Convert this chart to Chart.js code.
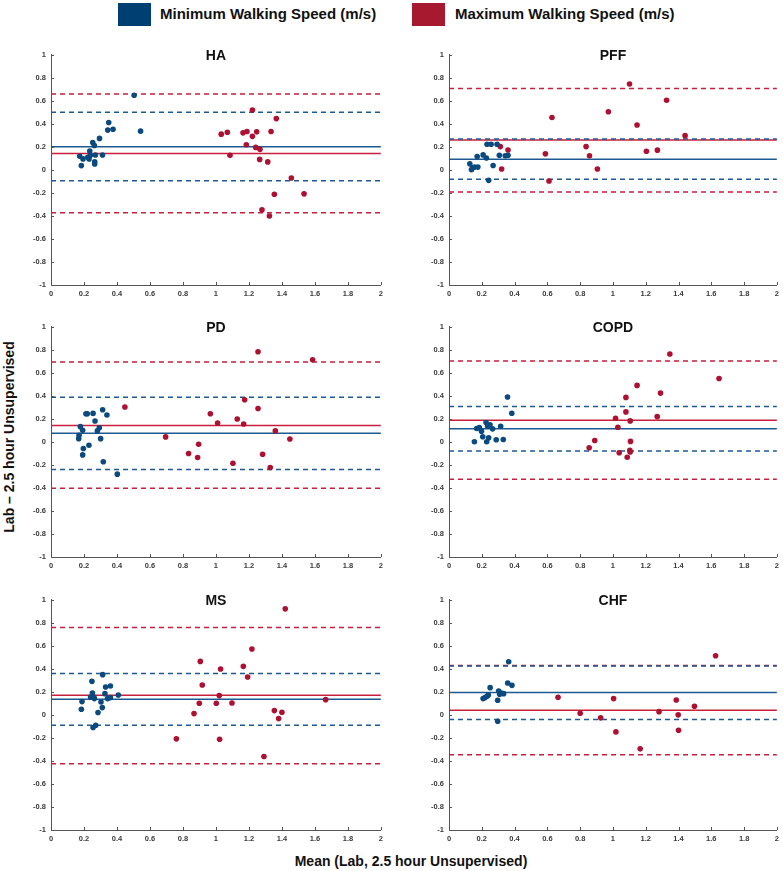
<!DOCTYPE html>
<html>
<head>
<meta charset="utf-8">
<script src="https://cdn.jsdelivr.net/npm/chart.js@4.4.1/dist/chart.umd.min.js"></script>
<style>
  html, body { margin:0; padding:0; background:#fff; }
  body { width:783px; height:871px; position:relative; overflow:hidden; font-family:"Liberation Sans", Arial, sans-serif; }
  canvas.panel { position:absolute; }
  .lg-box { position:absolute; width:33px; height:23px; top:3px; }
  .lg-txt { position:absolute; top:4px; font-weight:bold; font-size:15px; line-height:20px; color:#111; white-space:nowrap; }
  #ylab { position:absolute; left:9px; top:437px; transform:translate(-50%,-50%) rotate(-90deg); font-weight:bold; font-size:14px; white-space:nowrap; color:#111; }
  #xlab { position:absolute; left:411px; top:861px; transform:translate(-50%,-50%); font-weight:bold; font-size:14px; white-space:nowrap; color:#111; }
</style>
</head>
<body>
<div class="lg-box" style="left:118px;background:#003f72"></div>
<div class="lg-txt" style="left:160px">Minimum Walking Speed (m/s)</div>
<div class="lg-box" style="left:412px;background:#a6192e"></div>
<div class="lg-txt" style="left:455px">Maximum Walking Speed (m/s)</div>
<div id="ylab">Lab – 2.5 hour Unsupervised</div>
<div id="xlab">Mean (Lab, 2.5 hour Unsupervised)</div>

<script>
// ---------- DATA ----------
const panelNames = ['HA', 'PFF', 'PD', 'COPD', 'MS', 'CHF'];
const xTicks = [0, 0.2, 0.4, 0.6, 0.8, 1, 1.2, 1.4, 1.6, 1.8, 2];
const yTicks = [-1, -0.8, -0.6, -0.4, -0.2, 0, 0.2, 0.4, 0.6, 0.8, 1];

// HA
const haMinX = [0.174,0.184,0.194,0.223,0.231,0.235,0.239,0.253,0.263,0.265,0.265,0.269,0.294,0.312,0.344,0.350,0.376,0.504,0.543];
const haMinY = [0.117,0.036,0.094,0.108,0.094,0.163,0.125,0.237,0.211,0.070,0.050,0.128,0.272,0.128,0.344,0.410,0.352,0.646,0.335];
const haMaxX = [1.032,1.069,1.085,1.164,1.188,1.184,1.221,1.221,1.247,1.241,1.267,1.265,1.279,1.314,1.324,1.334,1.354,1.366,1.457,1.534];
const haMaxY = [0.309,0.326,0.125,0.320,0.332,0.217,0.519,0.290,0.329,0.194,0.177,0.090,-0.347,0.068,-0.401,0.332,-0.212,0.444,-0.071,-0.209];
const haMinLines = [0.200, 0.499, -0.096];   // mean, upper LoA, lower LoA
const haMaxLines = [0.142, 0.657, -0.373];

// PFF
const pffMinX = [0.127,0.137,0.143,0.156,0.172,0.176,0.208,0.228,0.232,0.242,0.257,0.269,0.293,0.307,0.343,0.360];
const pffMinY = [0.052,0.000,0.017,0.023,0.115,0.023,0.129,0.101,0.221,-0.092,0.221,0.037,0.221,0.126,0.121,0.126];
const pffMaxX = [0.313,0.321,0.360,0.588,0.610,0.628,0.836,0.857,0.905,0.972,1.101,1.147,1.204,1.271,1.327,1.440];
const pffMaxY = [0.201,0.006,0.172,0.138,-0.098,0.454,0.201,0.121,0.006,0.503,0.744,0.388,0.161,0.170,0.603,0.296];
const pffMinLines = [0.092, 0.267, -0.083];
const pffMaxLines = [0.259, 0.704, -0.193];

// PD
const pdMinX = [0.168,0.170,0.178,0.192,0.196,0.192,0.212,0.220,0.230,0.255,0.267,0.281,0.293,0.301,0.313,0.317,0.339,0.402];
const pdMinY = [0.027,0.056,0.131,0.099,-0.059,-0.114,0.243,0.243,-0.030,0.246,0.180,0.094,0.122,0.027,0.278,-0.174,0.232,-0.281];
const pdMaxX = [0.448,0.695,0.834,0.889,0.895,0.966,1.010,1.103,1.129,1.168,1.174,1.255,1.255,1.283,1.329,1.360,1.448,1.586];
const pdMaxY = [0.301,0.042,-0.102,-0.137,-0.022,0.243,0.163,-0.186,0.197,0.154,0.364,0.289,0.781,-0.108,-0.223,0.094,0.024,0.712];
const pdMinLines = [0.073, 0.387, -0.240];
const pdMaxLines = [0.142, 0.692, -0.404];

// COPD
const copdMinX = [0.155,0.169,0.185,0.198,0.206,0.226,0.230,0.236,0.242,0.250,0.266,0.288,0.315,0.331,0.357,0.383];
const copdMinY = [0.000,0.115,0.124,0.092,0.043,0.167,0.000,0.135,0.034,0.147,0.112,0.017,0.135,0.020,0.388,0.247];
const copdMaxX = [0.855,0.889,1.016,1.030,1.038,1.079,1.079,1.087,1.105,1.107,1.103,1.105,1.147,1.270,1.290,1.347,1.647];
const copdMaxY = [-0.052,0.011,0.204,0.126,-0.095,0.385,0.259,-0.135,0.181,0.003,-0.075,-0.089,0.489,0.218,0.422,0.761,0.549];
const copdMinLines = [0.112, 0.305, -0.080];
const copdMaxLines = [0.187, 0.701, -0.325];

// MS
const msMinX = [0.184,0.188,0.240,0.248,0.251,0.255,0.259,0.263,0.271,0.285,0.303,0.311,0.313,0.327,0.331,0.343,0.360,0.360,0.408];
const msMinY = [0.048,0.114,0.154,0.290,0.189,-0.111,0.154,0.140,-0.091,0.019,0.111,0.062,0.348,0.183,0.241,0.140,0.149,0.250,0.172];
const msMaxX = [0.760,0.867,0.899,0.905,0.917,1.002,1.020,1.022,1.028,1.097,1.166,1.192,1.218,1.291,1.354,1.380,1.400,1.420,1.665];
const msMaxY = [-0.209,0.010,0.100,0.463,0.258,0.100,0.166,-0.212,0.397,0.102,0.420,0.328,0.570,-0.362,0.036,-0.033,0.022,0.919,0.131];
const msMinLines = [0.134, 0.359, -0.091];
const msMaxLines = [0.169, 0.758, -0.426];

// CHF
const chfMinX = [0.208,0.220,0.232,0.240,0.251,0.297,0.297,0.303,0.309,0.319,0.333,0.358,0.364,0.384];
const chfMinY = [0.140,0.149,0.160,0.172,0.235,0.126,-0.056,0.206,0.177,0.189,0.183,0.276,0.460,0.255];
const chfMaxX = [0.665,0.800,0.925,1.004,1.018,1.166,1.281,1.386,1.398,1.400,1.497,1.626];
const chfMaxY = [0.152,0.013,-0.027,0.140,-0.149,-0.296,0.027,0.128,-0.001,-0.134,0.074,0.512];
const chfMinLines = [0.192, 0.423, -0.042];
const chfMaxLines = [0.039, 0.428, -0.348];

// ---------- BUILD ----------
const BLUE_PT = '#0b4a7e', RED_PT = '#ad1030';
const BLUE_LN = '#1d5a92', RED_LN = '#c81f3c';

const panelData = [
  [haMinX, haMinY, haMaxX, haMaxY, haMinLines, haMaxLines],
  [pffMinX, pffMinY, pffMaxX, pffMaxY, pffMinLines, pffMaxLines],
  [pdMinX, pdMinY, pdMaxX, pdMaxY, pdMinLines, pdMaxLines],
  [copdMinX, copdMinY, copdMaxX, copdMaxY, copdMinLines, copdMaxLines],
  [msMinX, msMinY, msMaxX, msMaxY, msMinLines, msMaxLines],
  [chfMinX, chfMinY, chfMaxX, chfMaxY, chfMinLines, chfMaxLines]
];

// layout (positions only)
const colLeft = [30, 428];
const colWidth = [357, 355];
const rowPlotTop = [53, 325, 598];
const PAD_TOP = 8, Y_W = 21, X_H = 16, PLOT_H = 232;

const zip = (xs, ys) => xs.map((x, i) => ({ x, y: ys[i] }));
const hline = (v) => [{ x: xTicks[0], y: v }, { x: xTicks[xTicks.length - 1], y: v }];
const fmt = (v) => String(Math.round(v * 10) / 10);

const panelDecor = {
  id: 'panelDecor',
  afterDraw(chart, args, opts) {
    const ctx = chart.ctx, a = chart.chartArea;
    const xs = chart.scales.x, ys = chart.scales.y;
    ctx.save();
    // inward tick marks
    ctx.strokeStyle = '#555';
    ctx.lineWidth = 1;
    ctx.beginPath();
    yTicks.forEach(v => {
      const py = Math.round(ys.getPixelForValue(v)) + 0.5;
      ctx.moveTo(a.left, py); ctx.lineTo(a.left + 3, py);
    });
    xTicks.forEach(v => {
      const px = Math.round(xs.getPixelForValue(v)) + 0.5;
      ctx.moveTo(px, a.bottom); ctx.lineTo(px, a.bottom - 3);
    });
    ctx.stroke();
    // panel title
    ctx.fillStyle = '#111';
    ctx.font = 'bold 14px "Liberation Sans", Arial, sans-serif';
    ctx.textAlign = 'center';
    ctx.textBaseline = 'middle';
    ctx.fillText(opts.title, (a.left + a.right) / 2, a.top + 2);
    ctx.restore();
  }
};

panelNames.forEach((name, i) => {
  const col = i % 2, row = Math.floor(i / 2);
  const cv = document.createElement('canvas');
  cv.className = 'panel';
  const w = colWidth[col], h = PAD_TOP + PLOT_H + X_H;
  cv.width = w; cv.height = h;
  cv.style.width = w + 'px'; cv.style.height = h + 'px';
  cv.style.left = colLeft[col] + 'px';
  cv.style.top = (rowPlotTop[row] - PAD_TOP) + 'px';
  document.body.appendChild(cv);

  const [minX, minY, maxX, maxY, minL, maxL] = panelData[i];
  const lineDs = (vals, color, order) => vals.map((v, k) => ({
    type: 'line', data: hline(v), borderColor: color, borderWidth: 1.5,
    borderDash: k === 0 ? [] : [5, 4], pointRadius: 0, fill: false, order
  }));

  new Chart(cv, {
    type: 'scatter',
    data: {
      datasets: [
        { data: zip(minX, minY), backgroundColor: BLUE_PT, borderColor: BLUE_PT, pointRadius: 2.8, borderWidth: 0, order: 0 },
        { data: zip(maxX, maxY), backgroundColor: RED_PT, borderColor: RED_PT, pointRadius: 2.8, borderWidth: 0, order: 0 },
        ...lineDs(minL, BLUE_LN, 1),
        ...lineDs(maxL, RED_LN, 2)
      ]
    },
    options: {
      responsive: false,
      animation: false,
      devicePixelRatio: 1,
      layout: { padding: { top: PAD_TOP, right: col === 0 ? 6 : 4, left: 0, bottom: 0 } },
      plugins: { legend: { display: false }, tooltip: { enabled: false }, panelDecor: { title: name } },
      scales: {
        x: {
          type: 'linear', min: 0, max: 2,
          afterBuildTicks: s => { s.ticks = xTicks.map(v => ({ value: v })); },
          afterFit: s => { s.height = X_H; },
          ticks: { callback: fmt, font: { family: '"Liberation Sans", Arial', size: 7.5, weight: 'bold' }, color: '#3a3a3a', padding: 4, maxRotation: 0, autoSkip: false },
          grid: { display: false, drawTicks: false, tickLength: 0 },
          border: { display: true, color: '#555', width: 1 }
        },
        y: {
          type: 'linear', min: -1, max: 1,
          afterBuildTicks: s => { s.ticks = yTicks.map(v => ({ value: v })); },
          afterFit: s => { s.width = Y_W; },
          ticks: { callback: fmt, font: { family: '"Liberation Sans", Arial', size: 7.5, weight: 'bold' }, color: '#3a3a3a', padding: 5, autoSkip: false },
          grid: { display: false, drawTicks: false, tickLength: 0 },
          border: { display: true, color: '#555', width: 1 }
        }
      }
    },
    plugins: [panelDecor]
  });
});
</script>
</body>
</html>
